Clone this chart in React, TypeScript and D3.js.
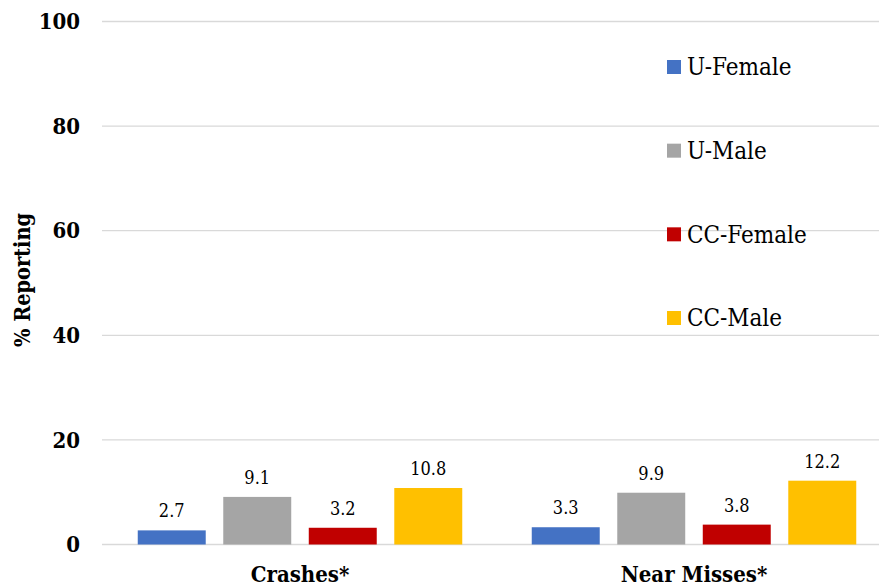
import React from "react";
import * as d3 from "d3";

const categories = ["Crashes*", "Near Misses*"];
const seriesNames = ["U-Female", "U-Male", "CC-Female", "CC-Male"];
const seriesColors = ["#4472C4", "#A5A5A5", "#C00000", "#FFC000"];
const uFemale = [2.7, 3.3];
const uMale = [9.1, 9.9];
const ccFemale = [3.2, 3.8];
const ccMale = [10.8, 12.2];
const yTicks = [0, 20, 40, 60, 80, 100];
const yTitle = "% Reporting";

const seriesValues = [uFemale, uMale, ccFemale, ccMale];

const W = 879;
const H = 588;
const FONT = "'DejaVu Serif Condensed', 'DejaVu Serif', serif";
const tStyle = { fontFamily: FONT, fontStretch: "condensed" as const };

export default function App() {
  const y = d3.scaleLinear().domain([0, 100]).range([544.5, 21.5]);
  const x0 = d3.scaleBand<string>().domain(categories).range([103, 891]).padding(0);
  const x1 = d3
    .scaleBand<string>()
    .domain(seriesNames)
    .range([-162.25, 162.25])
    .paddingInner(0.205)
    .paddingOuter(0);
  const legendY = d3.scalePoint<string>().domain(seriesNames).range([67, 318]);

  return (
    <svg
      width={W}
      height={H}
      style={{ position: "absolute", left: 0, top: 0, background: "#fff", fontFamily: FONT }}
    >
      {yTicks.map((t) => (
        <g key={t}>
          <line x1={102} x2={W} y1={y(t)} y2={y(t)} stroke="#D9D9D9" strokeWidth={1.3} />
          <text
            x={80}
            y={y(t)}
            dy="0.35em"
            textAnchor="end"
            fontWeight="bold"
            fontSize={22}
            fill="#000"
            style={tStyle}
          >
            {t}
          </text>
        </g>
      ))}
      {categories.map((c, ci) => {
        const cx = (x0(c) as number) + x0.bandwidth() / 2;
        return (
          <g key={c}>
            {seriesNames.map((s, si) => {
              const v = seriesValues[si][ci];
              const bx = cx + (x1(s) as number);
              return (
                <g key={s}>
                  <rect
                    x={bx}
                    y={y(v)}
                    width={x1.bandwidth()}
                    height={y(0) - y(v)}
                    fill={seriesColors[si]}
                  />
                  <text
                    x={bx + x1.bandwidth() / 2}
                    y={y(v) - 13}
                    textAnchor="middle"
                    fontSize={18}
                    fill="#000"
                    style={tStyle}
                  >
                    {v.toFixed(1)}
                  </text>
                </g>
              );
            })}
            <text
              x={cx}
              y={582}
              textAnchor="middle"
              fontWeight="bold"
              fontSize={22}
              fill="#000"
              style={tStyle}
            >
              {c}
            </text>
          </g>
        );
      })}
      <text
        transform={`translate(30, 280) rotate(-90)`}
        textAnchor="middle"
        fontWeight="bold"
        fontSize={21.5}
        fill="#000"
        style={tStyle}
      >
        {yTitle}
      </text>
      {seriesNames.map((s, si) => {
        const ly = legendY(s) as number;
        return (
          <g key={s}>
            <rect x={667} y={ly - 7} width={14} height={14} fill={seriesColors[si]} />
            <text x={687} y={ly} dy="0.35em" fontSize={24} fill="#000" style={tStyle}>
              {s}
            </text>
          </g>
        );
      })}
    </svg>
  );
}
